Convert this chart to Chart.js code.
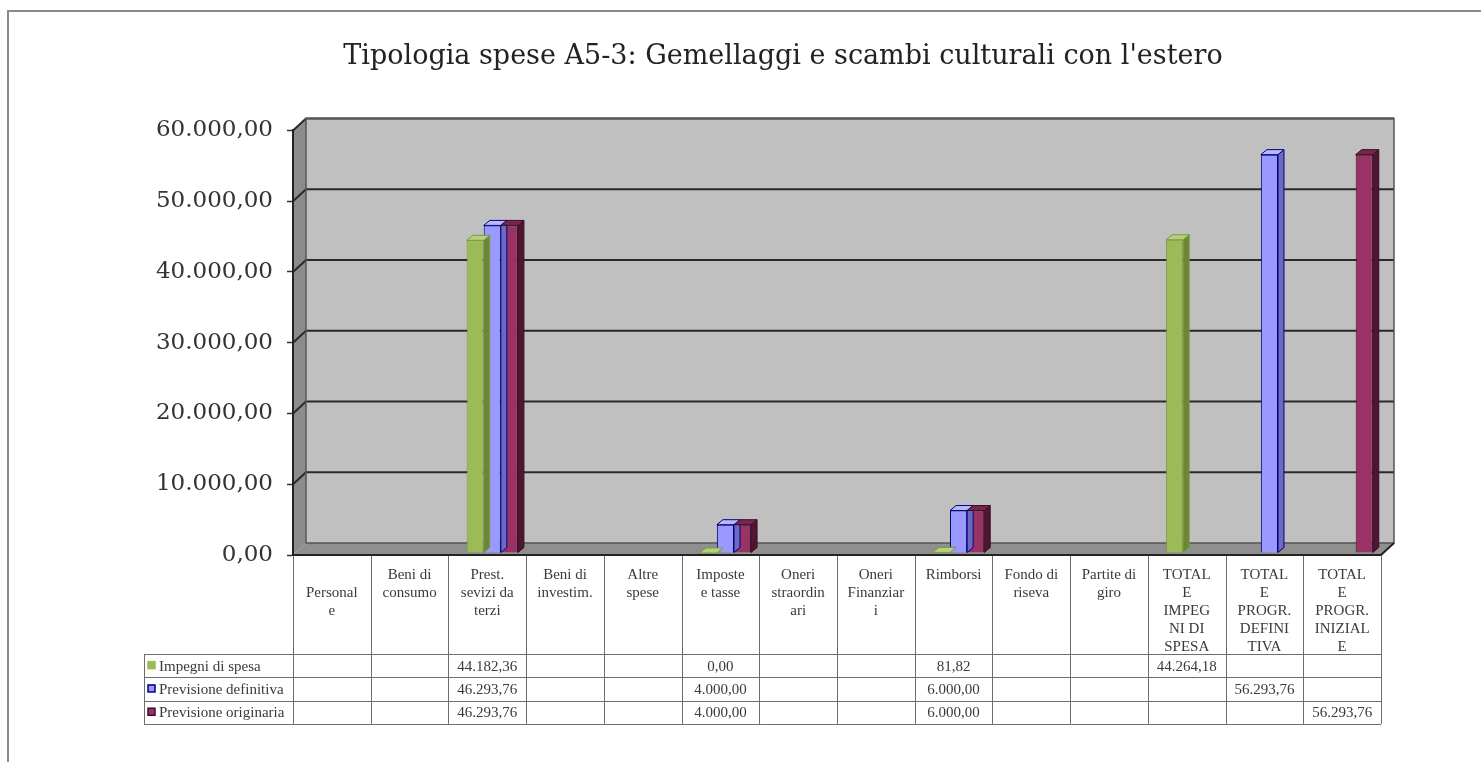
<!DOCTYPE html>
<html lang="it">
<head>
<meta charset="utf-8">
<title>Tipologia spese A5-3</title>
<script src="https://cdn.jsdelivr.net/npm/chart.js@4.4.1/dist/chart.umd.min.js"></script>
<style>
  html, body { margin: 0; padding: 0; background: #fff; }
  #frame {
    position: absolute; left: 7px; top: 10px; width: 1500px; height: 800px;
    border-top: 2px solid #8a8a8a; border-left: 2px solid #8a8a8a;
  }
  #wrap { position: absolute; left: 0; top: 0; width: 1481px; height: 762px; }
</style>
</head>
<body>
<div id="frame"></div>
<div id="wrap"><canvas id="speseChart" width="1481" height="762"></canvas></div>
<script>
// Voci di spesa (intestazioni di colonna della tabella dati)
const categorie = [
  ["", "Personal", "e"],
  ["Beni di", "consumo"],
  ["Prest.", "sevizi da", "terzi"],
  ["Beni di", "investim."],
  ["Altre", "spese"],
  ["Imposte", "e tasse"],
  ["Oneri", "straordin", "ari"],
  ["Oneri", "Finanziar", "i"],
  ["Rimborsi"],
  ["Fondo di", "riseva"],
  ["Partite di", "giro"],
  ["TOTAL", "E", "IMPEG", "NI DI", "SPESA"],
  ["TOTAL", "E", "PROGR.", "DEFINI", "TIVA"],
  ["TOTAL", "E", "PROGR.", "INIZIAL", "E"]
];

const impegniDiSpesa = [null, null, 44182.36, null, null, 0, null, null, 81.82, null, null, 44264.18, null, null];
const previsioneDefinitiva = [null, null, 46293.76, null, null, 4000, null, null, 6000, null, null, null, 56293.76, null];
const previsioneOriginaria = [null, null, 46293.76, null, null, 4000, null, null, 6000, null, null, null, null, 56293.76];

const yMin = 0;
const yMax = 60000;
const yStep = 10000;

// numeri in formato italiano: 46.293,76
function formatIt(v) {
  const parts = Number(v).toFixed(2).split(".");
  return parts[0].replace(/\B(?=(\d{3})+(?!\d))/g, ".") + "," + parts[1];
}

const serie = [
  { label: "Impegni di spesa", data: impegniDiSpesa, face: "#9cbb58", side: "#6b8636", top: "#b5d07a", edge: "#7a9a3e" },
  { label: "Previsione definitiva", data: previsioneDefinitiva, face: "#9999ff", side: "#6a6ac0", top: "#b8b8ff", edge: "#000080" },
  { label: "Previsione originaria", data: previsioneOriginaria, face: "#993366", side: "#4e1632", top: "#7a2550", edge: "#3a0f26" }
];

// profondità del grafico 3D (pareti e colonne)
const WALL_DX = 13, WALL_DY = -12;
const BAR_DX = 6, BAR_DY = -5;
const BAR_SHIFT_X = 5, BAR_SHIFT_Y = -2;

const walls3d = {
  id: "walls3d",
  beforeDraw(chart) {
    const { ctx, chartArea: a } = chart;
    const yScale = chart.scales.y;
    ctx.save();
    // parete di fondo
    ctx.fillStyle = "#c0c0c0";
    ctx.fillRect(a.left + WALL_DX, a.top + WALL_DY, a.right - a.left, a.bottom - a.top);
    // parete laterale sinistra
    ctx.fillStyle = "#8c8c8c";
    ctx.beginPath();
    ctx.moveTo(a.left, a.top);
    ctx.lineTo(a.left + WALL_DX, a.top + WALL_DY);
    ctx.lineTo(a.left + WALL_DX, a.bottom + WALL_DY);
    ctx.lineTo(a.left, a.bottom);
    ctx.closePath();
    ctx.fill();
    // pavimento
    ctx.fillStyle = "#8f8f8f";
    ctx.beginPath();
    ctx.moveTo(a.left, a.bottom);
    ctx.lineTo(a.left + WALL_DX, a.bottom + WALL_DY);
    ctx.lineTo(a.right + WALL_DX, a.bottom + WALL_DY);
    ctx.lineTo(a.right, a.bottom);
    ctx.closePath();
    ctx.fill();
    // griglia sulla parete di fondo
    ctx.strokeStyle = "#2a2a2a";
    ctx.lineWidth = 2;
    yScale.ticks.forEach(t => {
      if (t.value === yMin) return;
      const y = yScale.getPixelForValue(t.value);
      ctx.beginPath();
      ctx.moveTo(a.left, y);
      ctx.lineTo(a.left + WALL_DX, y + WALL_DY);
      ctx.lineTo(a.right + WALL_DX, y + WALL_DY);
      ctx.stroke();
    });
    // bordi
    ctx.lineWidth = 1.5;
    ctx.strokeStyle = "#555";
    ctx.strokeRect(a.left + WALL_DX, a.top + WALL_DY, a.right - a.left, a.bottom - a.top);
    ctx.strokeStyle = "#222";
    ctx.lineWidth = 2;
    ctx.beginPath();
    ctx.moveTo(a.left, a.bottom);
    ctx.lineTo(a.right, a.bottom);
    ctx.lineTo(a.right + WALL_DX, a.bottom + WALL_DY);
    ctx.stroke();
    ctx.restore();
  }
};

const bars3d = {
  id: "bars3d",
  beforeDatasetsDraw(chart) {
    chart.ctx.save();
    chart.ctx.translate(BAR_SHIFT_X, BAR_SHIFT_Y);
  },
  afterDatasetsDraw(chart) {
    const ctx = chart.ctx;
    chart.data.datasets.forEach((ds, di) => {
      const meta = chart.getDatasetMeta(di);
      const s = serie[di];
      meta.data.forEach((bar, i) => {
        if (ds.data[i] == null) return;
        const { x, y, base, width } = bar.getProps(["x", "y", "base", "width"], true);
        const l = x - width / 2, r = x + width / 2;
        ctx.lineWidth = 1;
        ctx.strokeStyle = s.edge;
        // lato destro
        ctx.fillStyle = s.side;
        ctx.beginPath();
        ctx.moveTo(r, y);
        ctx.lineTo(r + BAR_DX, y + BAR_DY);
        ctx.lineTo(r + BAR_DX, base + BAR_DY);
        ctx.lineTo(r, base);
        ctx.closePath();
        ctx.fill();
        ctx.stroke();
        // faccia superiore
        ctx.fillStyle = s.top;
        ctx.beginPath();
        ctx.moveTo(l, y);
        ctx.lineTo(l + BAR_DX, y + BAR_DY);
        ctx.lineTo(r + BAR_DX, y + BAR_DY);
        ctx.lineTo(r, y);
        ctx.closePath();
        ctx.fill();
        ctx.stroke();
      });
    });
    ctx.restore();
  }
};

// tabella dati sotto il grafico
const dataTable = {
  id: "dataTable",
  afterDraw(chart) {
    const { ctx, chartArea: a } = chart;
    const n = categorie.length;
    const colW = (a.right - a.left) / n;
    const headTop = a.bottom + 1;
    const headBottom = a.bottom + 99;
    const rowH = 23.3;
    const legendLeft = a.left - 149;
    const tableBottom = headBottom + rowH * serie.length;

    ctx.save();
    ctx.strokeStyle = "#6e6e6e";
    ctx.lineWidth = 1;
    // linee verticali
    for (let i = 0; i <= n; i++) {
      const x = Math.round(a.left + i * colW) + 0.5;
      ctx.beginPath();
      ctx.moveTo(x, headTop);
      ctx.lineTo(x, tableBottom);
      ctx.stroke();
    }
    ctx.beginPath();
    ctx.moveTo(legendLeft + 0.5, headBottom);
    ctx.lineTo(legendLeft + 0.5, tableBottom);
    ctx.stroke();
    // linee orizzontali
    for (let r = 0; r <= serie.length; r++) {
      const y = Math.round(headBottom + r * rowH) + 0.5;
      ctx.beginPath();
      ctx.moveTo(legendLeft, y);
      ctx.lineTo(a.right, y);
      ctx.stroke();
    }

    ctx.fillStyle = "#3a3a3a";
    ctx.font = "15px 'Liberation Serif'";
    ctx.textAlign = "center";
    ctx.textBaseline = "middle";
    // intestazioni
    categorie.forEach((lines, i) => {
      const cx = a.left + (i + 0.5) * colW;
      lines.forEach((t, k) => ctx.fillText(t, cx, headTop + 19 + k * 18));
    });
    // righe delle serie
    serie.forEach((s, r) => {
      const cy = headBottom + (r + 0.5) * rowH;
      ctx.fillStyle = s.face;
      ctx.fillRect(legendLeft + 4, cy - 4, 7, 7);
      ctx.strokeStyle = r === 0 ? s.face : s.edge;
      ctx.lineWidth = 1.5;
      ctx.strokeRect(legendLeft + 4, cy - 4, 7, 7);
      ctx.fillStyle = "#3a3a3a";
      ctx.textAlign = "left";
      ctx.fillText(s.label, legendLeft + 15, cy + 1);
      ctx.textAlign = "center";
      s.data.forEach((v, i) => {
        if (v == null) return;
        ctx.fillText(formatIt(v), a.left + (i + 0.5) * colW, cy + 1);
      });
    });
    ctx.restore();
  }
};

new Chart(document.getElementById("speseChart"), {
  type: "bar",
  data: {
    labels: categorie,
    datasets: serie.map(s => ({
      label: s.label,
      data: s.data,
      backgroundColor: s.face,
      borderColor: s.edge,
      borderWidth: 1,
      barPercentage: 1.0,
      categoryPercentage: 0.66
    }))
  },
  options: {
    responsive: false,
    animation: false,
    events: [],
    layout: { padding: { left: 153, right: 68, top: 0, bottom: 207 } },
    plugins: {
      legend: { display: false },
      tooltip: { enabled: false },
      title: {
        display: true,
        text: "Tipologia spese A5-3: Gemellaggi e scambi culturali con l'estero",
        color: "#222",
        font: { family: "'DejaVu Serif'", size: 27, weight: "normal" },
        padding: { top: 41, bottom: 57 }
      }
    },
    scales: {
      x: { display: false },
      y: {
        min: yMin,
        max: yMax,
        ticks: {
          stepSize: yStep,
          color: "#333",
          padding: 14,
          font: { family: "'DejaVu Serif'", size: 23 },
          callback: v => formatIt(v)
        },
        grid: { drawOnChartArea: false, tickLength: 6, color: "#333", tickWidth: 1.5 },
        border: { display: true, color: "#222", width: 2 },
        afterFit: s => { s.width = 140; }
      },
      // spazio vuoto a destra per la profondità della parete
      margineDestro: {
        type: "linear",
        position: "right",
        display: true,
        ticks: { display: false },
        grid: { display: false },
        border: { display: false },
        afterFit: s => { s.width = 32; }
      }
    }
  },
  plugins: [walls3d, bars3d, dataTable]
});
</script>
</body>
</html>
